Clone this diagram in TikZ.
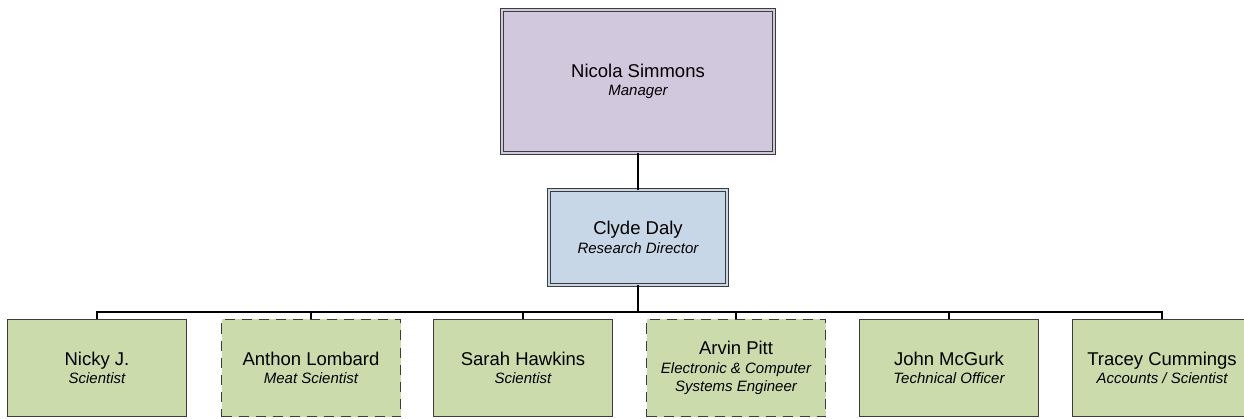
\documentclass[tikz,border=0pt]{standalone}
\usepackage{fontspec}
\setmainfont{Liberation Sans}
\definecolor{mgrfill}{HTML}{D1C8DE}
\definecolor{dirfill}{HTML}{C8D7E7}
\definecolor{stafffill}{HTML}{CBDBAB}
\definecolor{edge}{HTML}{3C3C3C}
\tikzset{
  person/.style={rectangle, inner sep=0pt, outer sep=0pt, align=center,
    draw=edge, line width=1.4pt, font=\fontsize{18.5}{18.5}\selectfont},
  headbox/.style={person, double=#1, double distance=2pt, line width=1.1pt, fill=#1},
  staffbox/.style={person, fill=stafffill, minimum width=179pt, minimum height=97pt},
  contract/.style={staffbox, line width=1.6pt, dash pattern=on 10pt off 7pt},
  link/.style={line width=1.2pt, black},
}
\newcommand{\role}[1]{{\fontsize{15}{18.5}\selectfont\itshape #1}}
\begin{document}
\begin{tikzpicture}[x=1pt,y=-1pt]
\useasboundingbox (0,0) rectangle (1244,419);

\node[headbox=mgrfill, minimum width=272pt, minimum height=143pt] (mgr) at (638,81.5)
  {Nicola Simmons\\ \role{Manager}};
\node[headbox=dirfill, minimum width=178pt, minimum height=95pt] (dir) at (638,237.5)
  {Clyde Daly\\ \role{Research Director}};

\node[staffbox] (nicky)   at (97,368)   {Nicky J.\\ \role{Scientist}};
\node[contract] (anthon)  at (311,368)  {Anthon Lombard\\ \role{Meat Scientist}};
\node[staffbox] (sarah)   at (523,368)  {Sarah Hawkins\\ \role{Scientist}};
\node[contract] (arvin)   at (736,368)  {Arvin Pitt\\ \role{Electronic \& Computer}\\ \role{Systems Engineer}};
\node[staffbox] (john)    at (949,368)  {John McGurk\\ \role{Technical Officer}};
\node[staffbox] (tracey)  at (1162,368) {Tracey Cummings\\ \role{Accounts / Scientist}};

\coordinate (bus) at (638,312);
\draw[link] (mgr.south) -- (dir.north);
\draw[link] (dir.south) -- (bus);
\foreach \n in {nicky,anthon,sarah,arvin,john,tracey}
  \draw[link] (bus) -| (\n.north);
\end{tikzpicture}
\end{document}
